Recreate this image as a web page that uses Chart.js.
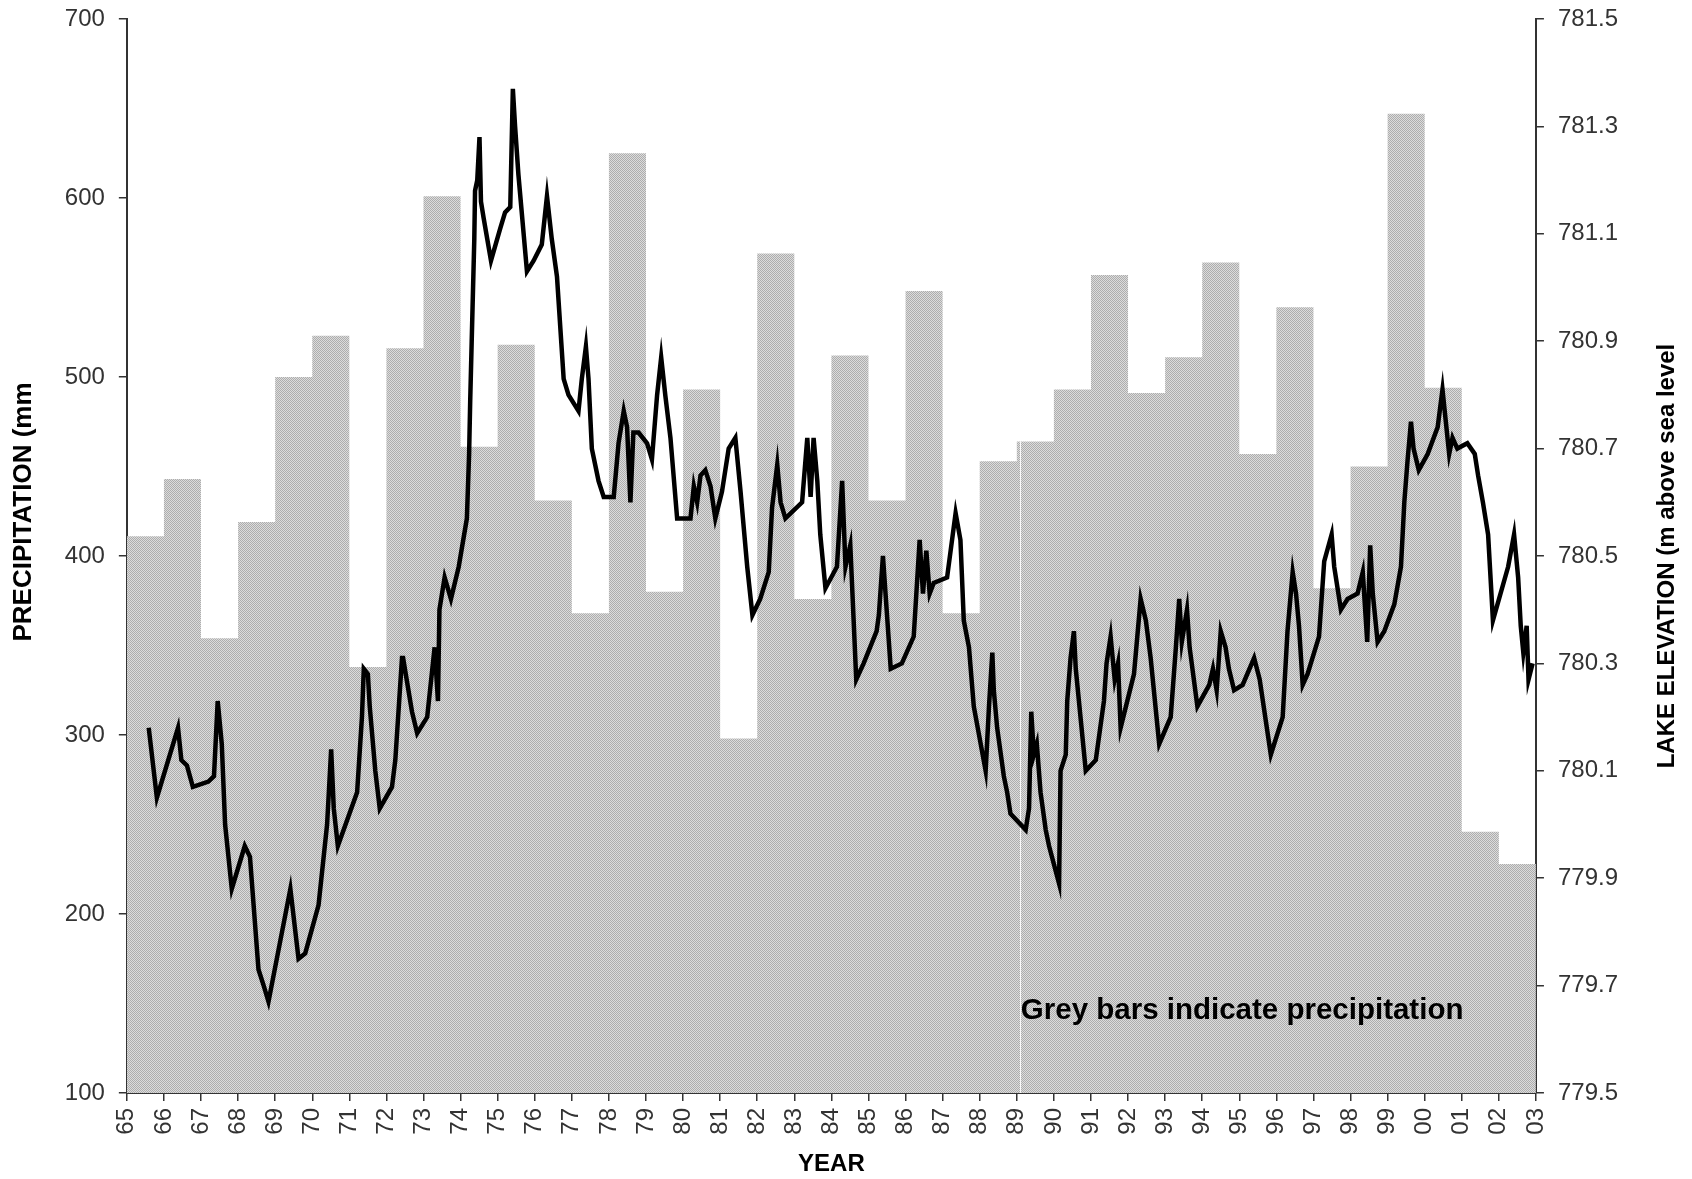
<!DOCTYPE html>
<html>
<head>
<meta charset="utf-8">
<script src="https://cdn.jsdelivr.net/npm/chart.js@4.4.1/dist/chart.umd.min.js"></script>
<style>
  html, body { margin: 0; padding: 0; background: #fff; }
  canvas { display: block; }
</style>
</head>
<body>
<canvas id="lakeChart" width="1692" height="1179"></canvas>
<script>
// precipitation per year (mm), one bar per year from 1965 to 2002
const precipStart = 1965;
const precip = [411, 443, 354, 419, 500, 523, 338, 516, 601, 461,
                518, 431, 368, 625, 380, 493, 298, 569, 376, 512,
                431, 548, 368, 453, 464, 493, 557, 491, 511, 564,
                457, 539, 382, 450, 647, 494, 246, 228];

// lake elevation (m above sea level)
const lakeYears = [
  1965.59, 1965.81, 1966.38, 1966.47, 1966.62, 1966.78, 1967.20, 1967.35, 1967.45, 1967.56,
  1967.65, 1967.83, 1968.18, 1968.32, 1968.55, 1968.69, 1968.82, 1969.41, 1969.63, 1969.81,
  1970.17, 1970.40, 1970.51, 1970.58, 1970.69, 1971.21, 1971.34, 1971.39, 1971.50, 1971.55,
  1971.70, 1971.82, 1972.15, 1972.24, 1972.42, 1972.45, 1972.69, 1972.83, 1973.10, 1973.30,
  1973.39, 1973.43, 1973.57, 1973.74, 1973.95, 1974.17, 1974.23, 1974.26, 1974.30, 1974.37,
  1974.39, 1974.45, 1974.51, 1974.55, 1974.62, 1974.82, 1975.07, 1975.20, 1975.34, 1975.41,
  1975.47, 1975.56, 1975.79, 1975.97, 1976.19, 1976.33, 1976.46, 1976.60, 1976.78, 1976.91,
  1977.18, 1977.27, 1977.38, 1977.45, 1977.54, 1977.72, 1977.86, 1978.13, 1978.26, 1978.40,
  1978.49, 1978.58, 1978.66, 1978.80, 1979.03, 1979.16, 1979.30, 1979.41, 1979.52, 1979.66,
  1979.84, 1980.20, 1980.29, 1980.38, 1980.47, 1980.60, 1980.74, 1980.87, 1981.05, 1981.23,
  1981.41, 1981.55, 1981.73, 1981.87, 1982.08, 1982.31, 1982.40, 1982.54, 1982.63, 1982.76,
  1983.21, 1983.35, 1983.44, 1983.52, 1983.62, 1983.70, 1983.84, 1984.15, 1984.29, 1984.38,
  1984.51, 1984.60, 1984.67, 1984.87, 1985.22, 1985.28, 1985.39, 1985.50, 1985.60, 1985.90,
  1986.22, 1986.38, 1986.47, 1986.56, 1986.65, 1986.76, 1987.12, 1987.35, 1987.48, 1987.57,
  1987.71, 1987.84, 1988.16, 1988.25, 1988.34, 1988.38, 1988.47, 1988.65, 1988.74, 1988.83,
  1989.24, 1989.33, 1989.39, 1989.46, 1989.54, 1989.64, 1989.78, 1989.87, 1990.14, 1990.18,
  1990.32, 1990.36, 1990.45, 1990.54, 1990.59, 1990.86, 1991.13, 1991.35, 1991.42, 1991.53,
  1991.64, 1991.73, 1991.80, 1992.16, 1992.25, 1992.34, 1992.48, 1992.61, 1992.84, 1993.15,
  1993.29, 1993.38, 1993.45, 1993.59, 1993.66, 1993.87, 1994.19, 1994.29, 1994.39, 1994.50,
  1994.63, 1994.72, 1994.86, 1995.09, 1995.40, 1995.55, 1995.85, 1996.17, 1996.30, 1996.44,
  1996.53, 1996.61, 1996.71, 1996.84, 1997.15, 1997.29, 1997.49, 1997.56, 1997.74, 1997.92,
  1998.19, 1998.33, 1998.45, 1998.53, 1998.60, 1998.73, 1998.91, 1999.18, 1999.36, 1999.45,
  1999.54, 1999.63, 1999.70, 1999.84, 2000.08, 2000.35, 2000.48, 2000.57, 2000.66, 2000.75,
  2000.88, 2001.15, 2001.35, 2001.44, 2001.57, 2001.71, 2001.80, 2001.84, 2002.25, 2002.41,
  2002.52, 2002.59, 2002.66, 2002.75, 2002.80, 2002.91
];
const lakeLevel = [
  780.18, 780.05, 780.18, 780.12, 780.11, 780.07, 780.08, 780.09, 780.23, 780.15,
  780.00, 779.88, 779.96, 779.94, 779.73, 779.70, 779.67, 779.88, 779.75, 779.76,
  779.85, 780.00, 780.14, 780.03, 779.96, 780.06, 780.20, 780.29, 780.28, 780.22,
  780.10, 780.03, 780.07, 780.12, 780.31, 780.31, 780.21, 780.17, 780.20, 780.33,
  780.23, 780.40, 780.46, 780.42, 780.48, 780.57, 780.69, 780.79, 780.90, 781.09,
  781.18, 781.20, 781.28, 781.16, 781.13, 781.05, 781.11, 781.14, 781.15, 781.37,
  781.30, 781.21, 781.03, 781.05, 781.08, 781.17, 781.09, 781.02, 780.83, 780.80,
  780.77, 780.83, 780.89, 780.83, 780.70, 780.64, 780.61, 780.61, 780.71, 780.77,
  780.74, 780.60, 780.73, 780.73, 780.71, 780.68, 780.80, 780.87, 780.80, 780.72,
  780.57, 780.57, 780.63, 780.60, 780.65, 780.66, 780.63, 780.57, 780.62, 780.70,
  780.72, 780.62, 780.48, 780.39, 780.42, 780.47, 780.59, 780.67, 780.60, 780.57,
  780.60, 780.72, 780.61, 780.72, 780.64, 780.54, 780.44, 780.48, 780.64, 780.48,
  780.52, 780.38, 780.27, 780.30, 780.36, 780.39, 780.50, 780.39, 780.29, 780.30,
  780.35, 780.53, 780.43, 780.51, 780.43, 780.45, 780.46, 780.58, 780.53, 780.38,
  780.33, 780.22, 780.10, 780.22, 780.32, 780.25, 780.18, 780.09, 780.06, 780.02,
  779.99, 780.03, 780.21, 780.13, 780.15, 780.06, 779.99, 779.96, 779.89, 780.10,
  780.13, 780.23, 780.31, 780.36, 780.29, 780.10, 780.12, 780.23, 780.30, 780.35,
  780.27, 780.30, 780.18, 780.28, 780.35, 780.42, 780.38, 780.31, 780.15, 780.20,
  780.33, 780.42, 780.34, 780.40, 780.33, 780.22, 780.26, 780.29, 780.25, 780.36,
  780.33, 780.29, 780.25, 780.26, 780.31, 780.27, 780.13, 780.20, 780.36, 780.47,
  780.43, 780.37, 780.26, 780.28, 780.35, 780.49, 780.54, 780.48, 780.40, 780.42,
  780.43, 780.47, 780.34, 780.52, 780.43, 780.34, 780.36, 780.41, 780.48, 780.60,
  780.68, 780.75, 780.70, 780.66, 780.69, 780.74, 780.81, 780.75, 780.69, 780.72,
  780.70, 780.71, 780.69, 780.65, 780.60, 780.54, 780.43, 780.38, 780.48, 780.54,
  780.46, 780.37, 780.32, 780.37, 780.27, 780.30
];

// axis ticks
const yearLabels = ['65','66','67','68','69','70','71','72','73','74','75','76','77',
                    '78','79','80','81','82','83','84','85','86','87','88','89','90',
                    '91','92','93','94','95','96','97','98','99','00','01','02','03'];
const precipTicks = [100, 200, 300, 400, 500, 600, 700];
const elevTicks = [779.5, 779.7, 779.9, 780.1, 780.3, 780.5, 780.7, 780.9, 781.1, 781.3, 781.5];

const leftTitle = 'PRECIPITATION (mm';
const rightTitle = 'LAKE ELEVATION (m above sea level';
const noteText = 'Grey bars indicate precipitation';
const noteAt = { year: 1989, mm: 146 };

const FONT = "'Liberation Sans', Arial, sans-serif";

// dotted grey fill like the old Excel bars
const pc = document.createElement('canvas');
pc.width = 2; pc.height = 2;
const pctx = pc.getContext('2d');
pctx.fillStyle = '#dcdcdc'; pctx.fillRect(0, 0, 2, 2);
pctx.fillStyle = '#adadad'; pctx.fillRect(0, 0, 1, 1); pctx.fillRect(1, 1, 1, 1);
const greyDots = pctx.createPattern(pc, 'repeat');

// bars as a stepped area: each value holds from its year to the next
const barPoints = precip.map((v, i) => ({ x: precipStart + i, y: v }));
barPoints.push({ x: precipStart + precip.length, y: precip[precip.length - 1] });

const linePoints = lakeYears.map((x, i) => ({ x: x, y: lakeLevel[i] }));

const tickFont = { family: FONT, size: 24 };
const titleFont = { family: FONT, size: 24, weight: 'bold' };
const axisGrid = { drawOnChartArea: false, drawTicks: true, tickLength: 8, color: '#333', lineWidth: 1.5 };
const axisBorder = { display: true, color: '#333', width: 2 };
// keep the plot top close to the canvas edge despite the wide tick padding
const trimTop = s => { s.paddingTop = 19; };

const extras = {
  id: 'extras',
  afterDatasetDraw(chart, args) {
    if (args.index !== 1) return;
    // thin white seam in the bar block at 1989
    const { ctx, scales } = chart;
    const x = Math.round(scales.x.getPixelForValue(1989)) + 3.5;
    ctx.save();
    ctx.strokeStyle = 'rgba(255,255,255,0.9)';
    ctx.lineWidth = 1;
    ctx.beginPath();
    ctx.moveTo(x, scales.y.getPixelForValue(precip[1989 - precipStart]));
    ctx.lineTo(x, chart.chartArea.bottom);
    ctx.stroke();
    ctx.restore();
  },
  afterDraw(chart) {
    const { ctx, scales, chartArea } = chart;
    ctx.save();
    ctx.fillStyle = '#000';
    // note inside the plot
    ctx.font = 'bold 29.5px ' + FONT;
    ctx.textAlign = 'left';
    ctx.textBaseline = 'middle';
    ctx.fillText(noteText, scales.x.getPixelForValue(noteAt.year) + 4, scales.y.getPixelForValue(noteAt.mm));
    ctx.textAlign = 'center';
    // left axis title sits a bit above the middle, as in the original
    ctx.save();
    ctx.translate(24, 512);
    ctx.rotate(-Math.PI / 2);
    ctx.font = 'bold 26px ' + FONT;
    ctx.fillText(leftTitle, 0, 0);
    ctx.restore();
    // right axis title, reading upwards
    ctx.translate(1667, (chartArea.top + chartArea.bottom) / 2);
    ctx.rotate(-Math.PI / 2);
    ctx.font = 'bold 24px ' + FONT;
    ctx.fillText(rightTitle, 0, 0);
    ctx.restore();
  }
};

new Chart(document.getElementById('lakeChart'), {
  type: 'line',
  data: {
    datasets: [
      {
        label: 'Lake elevation',
        data: linePoints,
        yAxisID: 'y2',
        borderColor: '#000',
        borderWidth: 4.5,
        pointRadius: 0,
        tension: 0,
        fill: false,
        order: 1
      },
      {
        label: 'Precipitation',
        data: barPoints,
        yAxisID: 'y',
        stepped: 'before',
        borderColor: 'transparent',
        borderWidth: 0,
        backgroundColor: greyDots,
        pointRadius: 0,
        fill: 'start',
        order: 2
      }
    ]
  },
  options: {
    responsive: false,
    animation: false,
    layout: { padding: { left: 10, right: 60, top: 0, bottom: 0 } },
    plugins: { legend: { display: false }, tooltip: { enabled: false } },
    scales: {
      x: {
        type: 'linear',
        min: 1965,
        max: 2003,
        afterBuildTicks: s => { s.ticks = yearLabels.map((_, i) => ({ value: 1965 + i })); },
        ticks: {
          autoSkip: false, minRotation: 90, maxRotation: 90, padding: 7,
          color: '#333', font: tickFont,
          callback: (v, i) => yearLabels[i]
        },
        grid: axisGrid,
        border: axisBorder,
        title: { display: true, text: 'YEAR', color: '#000', font: titleFont, padding: { top: 8.5, bottom: 0 } }
      },
      y: {
        position: 'left',
        min: 100,
        max: 700,
        afterBuildTicks: s => { s.ticks = precipTicks.map(v => ({ value: v })); },
        afterFit: trimTop,
        ticks: { padding: 14, color: '#333', font: tickFont },
        grid: axisGrid,
        border: axisBorder,
        // space kept for the title, which the plugin draws itself
        title: { display: true, text: leftTitle, color: 'rgba(0,0,0,0)', font: titleFont, padding: { top: 0, bottom: 12 } }
      },
      y2: {
        position: 'right',
        min: 779.5,
        max: 781.5,
        afterBuildTicks: s => { s.ticks = elevTicks.map(v => ({ value: v })); },
        afterFit: trimTop,
        ticks: { padding: 14, color: '#333', font: tickFont, callback: v => v.toFixed(1) },
        grid: axisGrid,
        border: axisBorder
      }
    }
  },
  plugins: [extras]
});
</script>
</body>
</html>
